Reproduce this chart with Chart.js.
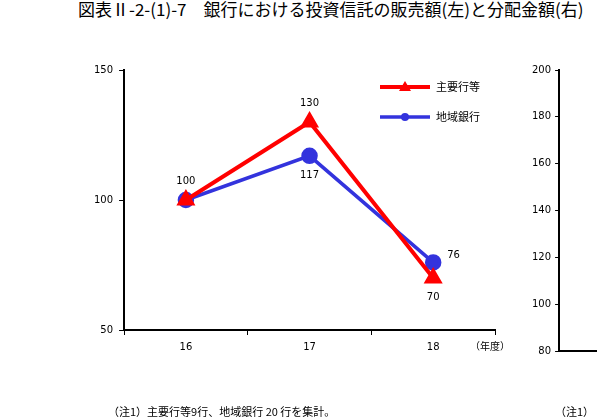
<!DOCTYPE html>
<html><head><meta charset="utf-8">
<script src="https://cdn.jsdelivr.net/npm/chart.js@4"></script>
<style>
body{margin:0;width:597px;height:417px;overflow:hidden;background:#fff;position:relative;font-family:"Noto Sans CJK JP",sans-serif;}
#title{position:absolute;left:78px;top:-4px;font-size:17px;white-space:nowrap;color:#000;}
#note1{position:absolute;left:108px;top:403px;font-size:11px;white-space:nowrap;}
#note2{position:absolute;left:555px;top:403px;font-size:11px;white-space:nowrap;}
canvas{position:absolute;left:0;top:0;}
</style></head>
<body>
<div id="title">図表Ⅱ-2-(1)-7　銀行における投資信託の販売額(左)と分配金額(右)</div>
<div style="position:absolute;left:0;top:0;width:597px;height:417px;"><canvas id="c1" width="597" height="417"></canvas></div>
<div style="position:absolute;left:520px;top:0;width:77px;height:417px;"><canvas id="c2" width="77" height="417"></canvas></div>
<div id="note1">（注1）主要行等9行、地域銀行 20 行を集計。</div>
<div id="note2">（注1）</div>
<script>
const years = ['16', '17', '18'];
const majorBanks = [100, 130, 70];
const regionalBanks = [100, 117, 76];
const seriesNames = ['主要行等', '地域銀行'];
const leftTicks = [50, 100, 150];
const rightTicks = [80, 100, 120, 140, 160, 180, 200];

Chart.defaults.font.family = '"DejaVu Sans", "Noto Sans CJK JP", sans-serif';
Chart.defaults.font.size = 10;
Chart.defaults.color = '#000';

const labelPos = [
    [['above', 100], ['above', 130], ['below', 70]],
    [[null], ['below', 117], ['right', 76]]
];

const overlay = {
    id: 'overlay',
    afterDatasetsDraw(chart) {
        const ctx = chart.ctx;
        ctx.save();
        ctx.font = '10px "DejaVu Sans", sans-serif';
        ctx.fillStyle = '#000';
        chart.data.datasets.forEach((ds, i) => {
            chart.getDatasetMeta(i).data.forEach((pt, j) => {
                const p = labelPos[i][j];
                if (!p[0]) return;
                let x = pt.x, y = pt.y;
                ctx.textAlign = 'center';
                if (p[0] == 'above') y -= 16;
                if (p[0] == 'below') y += 22;
                if (p[0] == 'right') { x += 14; y -= 4; ctx.textAlign = 'left'; }
                ctx.fillText(ds.data[j], x, y);
            });
        });
        // legend
        chart.data.datasets.forEach((ds, i) => {
            const y = 87 + i * 30;
            ctx.strokeStyle = ds.borderColor;
            ctx.lineWidth = ds.borderWidth;
            ctx.beginPath(); ctx.moveTo(380, y); ctx.lineTo(430, y); ctx.stroke();
            ctx.fillStyle = ds.borderColor;
            ctx.beginPath();
            if (i == 0) { ctx.moveTo(405, y - 6); ctx.lineTo(411, y + 4); ctx.lineTo(399, y + 4); }
            else ctx.arc(405, y, 4, 0, Math.PI * 2);
            ctx.fill();
            ctx.fillStyle = '#000';
            ctx.textAlign = 'left';
            ctx.font = '11px "Noto Sans CJK JP", sans-serif';
            ctx.fillText(ds.label, 436, y + 4);
        });
        ctx.font = '10px "Noto Sans CJK JP", sans-serif';
        ctx.fillText('（年度）', 470, 350);
        ctx.restore();
    }
};

new Chart(document.getElementById('c1'), {
    type: 'line',
    data: {
        labels: years,
        datasets: [{
            label: seriesNames[0], data: majorBanks,
            borderColor: '#ff0000', backgroundColor: '#ff0000', borderWidth: 4,
            pointStyle: 'triangle', pointRadius: 7
        }, {
            label: seriesNames[1], data: regionalBanks,
            borderColor: '#3333dd', backgroundColor: '#3333dd', borderWidth: 3.5,
            pointStyle: 'circle', pointRadius: 6.5
        }]
    },
    options: {
        responsive: false, animation: false,
        layout: { padding: { left: 88, top: 70, right: 102, bottom: 58 } },
        plugins: { legend: { display: false }, tooltip: { enabled: false } },
        scales: {
            x: {
                offset: true,
                grid: { offset: true, drawOnChartArea: false, color: '#000', tickLength: 5 },
                border: { color: '#000', width: 2 },
                ticks: { padding: 6 }
            },
            y: {
                min: 50, max: 150,
                afterBuildTicks: s => { s.ticks = leftTicks.map(v => ({ value: v })); },
                grid: { drawOnChartArea: false, color: '#000', tickLength: 5 },
                border: { color: '#000', width: 2 },
                ticks: { padding: 6 }
            }
        }
    },
    plugins: [overlay]
});

new Chart(document.getElementById('c2'), {
    type: 'line',
    data: { labels: [''], datasets: [{ data: [] }] },
    options: {
        responsive: false, animation: false,
        layout: { padding: { left: 8, top: 70, right: 0, bottom: 58 } },
        plugins: { legend: { display: false }, tooltip: { enabled: false } },
        scales: {
            x: { grid: { display: false }, border: { color: '#000', width: 2 }, ticks: { display: false } },
            y: {
                min: 80, max: 200,
                afterBuildTicks: s => { s.ticks = rightTicks.map(v => ({ value: v })); },
                grid: { drawOnChartArea: false, color: '#000', tickLength: 4 },
                border: { color: '#000', width: 2 },
                ticks: { padding: 4 }
            }
        }
    }
});
</script>
</body></html>
